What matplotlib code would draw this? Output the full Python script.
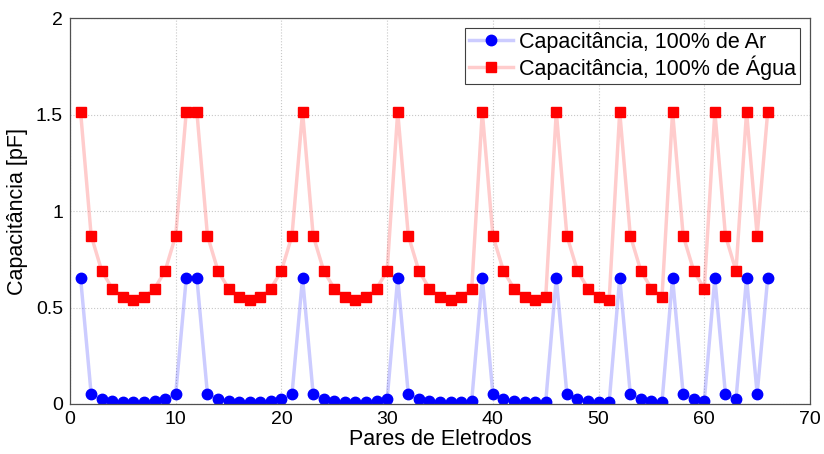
import numpy as np
import matplotlib
matplotlib.use("Agg")
import matplotlib.pyplot as plt

plt.rcParams['font.family'] = ['Liberation Sans', 'DejaVu Sans']

# pares de eletrodos (12 eletrodos -> 66 pares)
pares = list(range(1, 67))

cap_ar = [
    0.654, 0.052, 0.024, 0.016, 0.010, 0.008, 0.010, 0.016, 0.024, 0.052, 0.654,
    0.654, 0.052, 0.024, 0.016, 0.010, 0.008, 0.010, 0.016, 0.024, 0.052,
    0.654, 0.052, 0.024, 0.016, 0.010, 0.008, 0.010, 0.016, 0.024,
    0.654, 0.052, 0.024, 0.016, 0.010, 0.008, 0.010, 0.016,
    0.654, 0.052, 0.024, 0.016, 0.010, 0.008, 0.010,
    0.654, 0.052, 0.024, 0.016, 0.010, 0.008,
    0.654, 0.052, 0.024, 0.016, 0.010,
    0.654, 0.052, 0.024, 0.016,
    0.654, 0.052, 0.024,
    0.654, 0.052,
    0.654,
]

cap_agua = [
    1.515, 0.873, 0.690, 0.598, 0.553, 0.539, 0.553, 0.598, 0.690, 0.873, 1.515,
    1.515, 0.873, 0.690, 0.598, 0.553, 0.539, 0.553, 0.598, 0.690, 0.873,
    1.515, 0.873, 0.690, 0.598, 0.553, 0.539, 0.553, 0.598, 0.690,
    1.515, 0.873, 0.690, 0.598, 0.553, 0.539, 0.553, 0.598,
    1.515, 0.873, 0.690, 0.598, 0.553, 0.539, 0.553,
    1.515, 0.873, 0.690, 0.598, 0.553, 0.539,
    1.515, 0.873, 0.690, 0.598, 0.553,
    1.515, 0.873, 0.690, 0.598,
    1.515, 0.873, 0.690,
    1.515, 0.873,
    1.515,
]

fig = plt.figure(figsize=(8.24, 4.54), dpi=100)
ax = fig.add_axes([70/824, 1 - 404/454, 740/824, 386/454])

ax.plot(pares, cap_ar, color=(0, 0, 1, 0.2), lw=2.5, marker='o', ms=7.5,
        mfc='#0000ff', mec='#0000ff', label='Capacitância, 100% de Ar')
ax.plot(pares, cap_agua, color=(1, 0, 0, 0.2), lw=2.5, marker='s', ms=6.5,
        mfc='#ff0000', mec='#ff0000', label='Capacitância, 100% de Água')

ax.set_xlim(0, 70)
ax.set_ylim(0, 2)
ax.set_xticks(range(0, 71, 10))
ax.set_yticks([0, 0.5, 1, 1.5, 2])
ax.set_yticklabels(['0', '0.5', '1', '1.5', '2'])
ax.tick_params(direction='in', labelsize=14, length=0, pad=5)
ax.grid(True, linestyle=':', color='#c8c8c8', lw=0.8)
ax.set_axisbelow(True)
for s in ax.spines.values():
    s.set_color('#505050')
    s.set_linewidth(0.9)

ax.set_xlabel('Pares de Eletrodos', fontsize=15.5, labelpad=1)
ax.set_ylabel('Capacitância [pF]', fontsize=15.5, labelpad=6)

leg = ax.legend(loc='upper right', fontsize=15.5, fancybox=False, framealpha=1,
                edgecolor='#404040', borderpad=0.2, labelspacing=0.1,
                handlelength=2.0, handletextpad=0.3, borderaxespad=0.45)
leg.get_frame().set_linewidth(0.8)

fig.savefig('out.png', dpi=100)
